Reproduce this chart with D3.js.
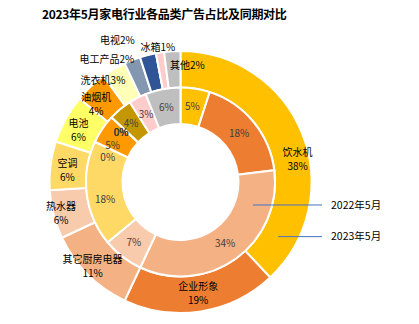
<!DOCTYPE html>
<html><head><meta charset="utf-8">
<script src="https://cdn.jsdelivr.net/npm/d3@7"></script>
<style>body{margin:0;background:#fff;}svg{display:block;}</style>
</head><body>
<svg id="c" width="419" height="324"></svg>
<script>
// ---- data ----
const title = "2023年5月家电行业各品类广告占比及同期对比";
const categories = ["饮水机","企业形象","其它厨房电器","热水器","空调","电池","油烟机","洗衣机","电工产品","电视","小家电","冰箱","其他"];
const values2023 = [38,19,11,6,6,6,4,3,2,2,0,1,2];
const values2022 = [5,18,34,7,18,0,5,0,0,0,4,3,6];
const seriesNames = ["2022年5月","2023年5月"];

// ---- style / layout ----
const colors = ["#FFC000","#ED7D31","#F4B183","#F8CBAD","#FFD966","#FFFF66","#FF9900","#FFFFB7","#8497B0","#2F5597","#C49600","#FFCCCC","#BFBFBF"];
const singleLine = new Set(["洗衣机","电工产品","电视","冰箱","其他"]);
const outerNudge = {"饮水机":[12,19],"其它厨房电器":[-8,5],"热水器":[-10,3],"空调":[-1,3],"油烟机":[-7,5],
  "电池":[-3,3],"洗衣机":[-20,-4],"电工产品":[-32,-17],"电视":[-35,-32],"冰箱":[-5,-23],"其他":[14,-4]};
const innerNudge = {"空调":[0,8],"电池":[-4,8],"油烟机":[-5,6],"洗衣机":[-4,3],"电工产品":[-4,3],"电视":[-4,3],"小家电":[-1,0]};

const W = 419, H = 324, cx = 180.5, cy = 182;
const rIn0 = 58, rIn1 = 94.5, rOut0 = 94.5, rOut1 = 131;

const svg = d3.select("#c");
svg.append("rect").attr("width",W).attr("height",H).attr("fill","#fff");

svg.append("text").attr("x",42).attr("y",19)
  .attr("font-family","'Noto Sans CJK SC','Noto Sans',sans-serif")
  .attr("font-weight","bold").attr("font-size",12).attr("fill","#000")
  .attr("letter-spacing",-0.3)
  .text(title);

const pie = d3.pie().sort(null).value(d => d.v).startAngle(0).endAngle(2*Math.PI);
const rows = (vals) => categories.map((c,i) => ({c, v: vals[i], i}));
const innerArcs = pie(rows(values2022));
const outerArcs = pie(rows(values2023));

const g = svg.append("g").attr("transform",`translate(${cx},${cy})`);
const arcIn = d3.arc().innerRadius(rIn0).outerRadius(rIn1);
const arcOut = d3.arc().innerRadius(rOut0).outerRadius(rOut1);
const arcInMid = d3.arc().innerRadius(76).outerRadius(76);
const arcOutMid = d3.arc().innerRadius(113).outerRadius(113);

g.selectAll("path.out").data(outerArcs).join("path").attr("class","out")
  .attr("d",arcOut).attr("fill",d => colors[d.data.i])
  .attr("stroke","#fff").attr("stroke-width",2);
g.selectAll("path.in").data(innerArcs).join("path").attr("class","in")
  .attr("d",arcIn).attr("fill",d => colors[d.data.i])
  .attr("stroke","#fff").attr("stroke-width",2);

const fontLbl = "'Noto Sans CJK SC','Noto Sans',sans-serif";

// inner labels
innerArcs.forEach(d => {
  const [x,y] = arcInMid.centroid(d);
  const n = innerNudge[d.data.c] || [0,0];
  g.append("text").attr("x",x+n[0]).attr("y",y+n[1]).attr("dy","0.35em")
    .attr("text-anchor","middle").attr("font-family",fontLbl).attr("font-size",10)
    .attr("fill","#404040").text(d.data.v + "%");
});

// outer labels
outerArcs.filter(d => d.data.v > 0).forEach(d => {
  const [x,y] = arcOutMid.centroid(d);
  const n = outerNudge[d.data.c] || [0,0];
  const t = g.append("text").attr("text-anchor","middle").attr("font-family",fontLbl)
    .attr("font-size",10).attr("fill","#000");
  if (singleLine.has(d.data.c)) {
    t.attr("x",x+n[0]).attr("y",y+n[1]).attr("dy","0.35em").text(d.data.c + d.data.v + "%");
  } else {
    t.append("tspan").attr("x",x+n[0]).attr("y",y+n[1]-7).attr("dy","0.35em").text(d.data.c);
    t.append("tspan").attr("x",x+n[0]).attr("y",y+n[1]+7).attr("dy","0.35em").text(d.data.v + "%");
  }
});

// series annotations
const ann = [
  {name: seriesNames[0], r: 76, a: 107.6},
  {name: seriesNames[1], r: 112, a: 119.2}
];
ann.forEach(s => {
  const rad = s.a * Math.PI/180;
  const x0 = s.r*Math.sin(rad), y0 = -s.r*Math.cos(rad);
  g.append("line").attr("x1",x0).attr("y1",y0).attr("x2",322-cx).attr("y2",y0)
    .attr("stroke","#4472C4").attr("stroke-width",1);
  g.append("text").attr("x",331-cx).attr("y",y0).attr("dy","0.35em")
    .attr("font-family",fontLbl).attr("font-size",10.5).attr("fill","#000").text(s.name);
});
</script>
</body></html>
